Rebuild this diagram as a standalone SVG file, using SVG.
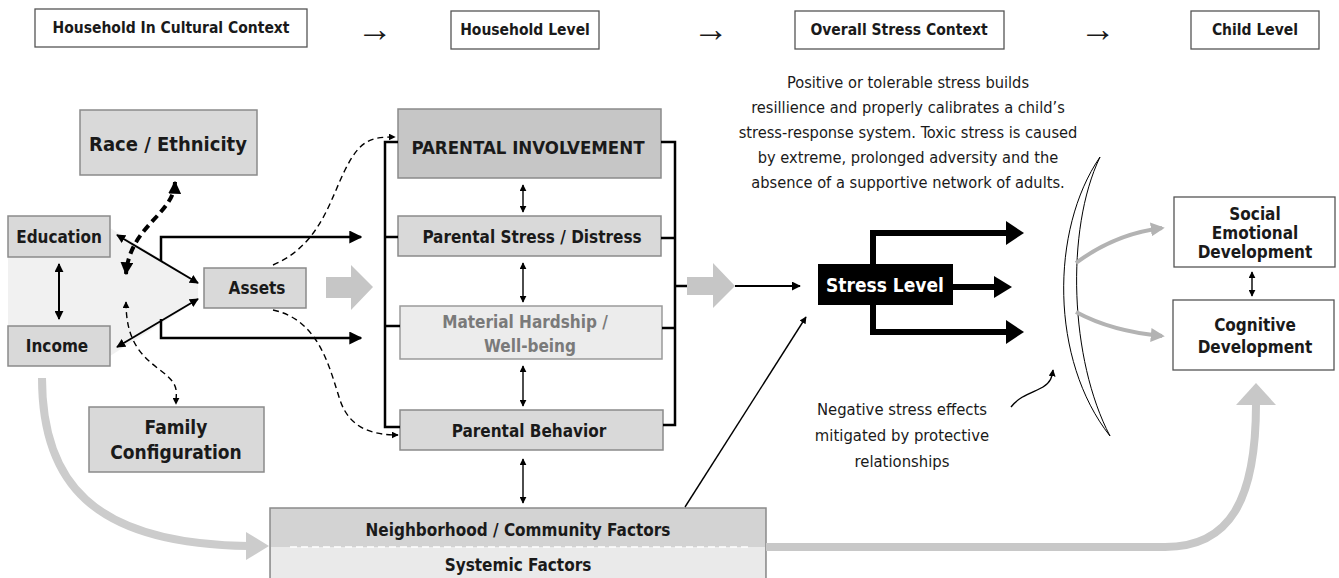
<svg xmlns="http://www.w3.org/2000/svg" width="1339" height="578" viewBox="0 0 1339 578">
<defs>
<style>
.b{font-family:"DejaVu Sans Condensed","Liberation Sans Narrow","Liberation Sans",sans-serif;font-weight:bold;fill:#1a1a1a;text-anchor:middle}
.r{font-family:"DejaVu Sans Condensed","Liberation Sans Narrow","Liberation Sans",sans-serif;font-weight:normal;fill:#1a1a1a;text-anchor:middle}
.ar{font-family:"Liberation Sans",sans-serif;font-weight:normal;fill:#1a1a1a;text-anchor:middle}
.hb{fill:#fff;stroke:#555;stroke-width:1.3}
.nb{fill:#d9d9d9;stroke:#8a8a8a;stroke-width:1.5}
.ln{fill:none;stroke:#000;stroke-width:2.5}
.thin{fill:none;stroke:#000;stroke-width:1.4}
.dash{fill:none;stroke:#000;stroke-width:1.4;stroke-dasharray:6 4}
.gr{fill:#c6c6c6}
</style>
<marker id="ah" viewBox="0 0 10 10" refX="9" refY="5" markerWidth="9" markerHeight="9" markerUnits="userSpaceOnUse" orient="auto-start-reverse"><path d="M0,0 L10,5 L0,10 z" fill="#000"/></marker>
<marker id="as" viewBox="0 0 10 10" refX="9" refY="5" markerWidth="7" markerHeight="7" markerUnits="userSpaceOnUse" orient="auto-start-reverse"><path d="M0,0 L10,5 L0,10 z" fill="#000"/></marker>
<marker id="am" viewBox="0 0 10 10" refX="9" refY="5" markerWidth="13" markerHeight="13" markerUnits="userSpaceOnUse" orient="auto-start-reverse"><path d="M0,0 L10,5 L0,10 z" fill="#000"/></marker>
<marker id="ag" viewBox="0 0 10 10" refX="8" refY="5" markerWidth="14" markerHeight="14" markerUnits="userSpaceOnUse" orient="auto"><path d="M0,0 L10,5 L0,10 z" fill="#b3b3b3"/></marker>
</defs>
<rect width="1339" height="578" fill="#fff"/>

<!-- header -->
<g id="hdr1"><rect class="hb" x="35" y="9" width="272" height="38"/><text class="b" x="171" y="33" font-size="15.5">Household In Cultural Context</text></g>
<text class="ar" x="375" y="41" font-size="36">→</text>
<g id="hdr2"><rect class="hb" x="451" y="11" width="148" height="38"/><text class="b" x="525" y="35" font-size="15.5">Household Level</text></g>
<text class="ar" x="711" y="41" font-size="36">→</text>
<g id="hdr3"><rect class="hb" x="795" y="11" width="209" height="38"/><text class="b" x="899" y="35" font-size="15.5">Overall Stress Context</text></g>
<text class="ar" x="1098" y="41" font-size="36">→</text>
<g id="hdr4"><rect class="hb" x="1191" y="11" width="128" height="38"/><text class="b" x="1255" y="35" font-size="15.5">Child Level</text></g>

<!-- light background region -->
<path d="M8 257 L110 257 L110 228 L198 282 L198 300 L110 356 L110 326 L8 326 Z" fill="#f1f1f1"/>

<!-- nodes -->
<g id="race"><rect class="nb" x="80" y="110" width="177" height="65"/><text class="b" x="168" y="151" font-size="20">Race / Ethnicity</text></g>
<g id="education"><rect class="nb" x="8" y="216" width="102" height="41"/><text class="b" x="59" y="243" font-size="17">Education</text></g>
<g id="income"><rect class="nb" x="8" y="326" width="102" height="40"/><text class="b" x="57" y="352" font-size="17">Income</text></g>
<g id="assets"><rect class="nb" x="204" y="268" width="102" height="40"/><text class="b" x="257" y="294" font-size="17">Assets</text></g>
<g id="family"><rect class="nb" x="89" y="407" width="175" height="65"/><text class="b" x="176" y="434" font-size="19">Family</text><text class="b" x="176" y="459" font-size="19">Configuration</text></g>
<g id="involvement"><rect x="398" y="109" width="263" height="69" fill="#c6c6c6" stroke="#8a8a8a" stroke-width="1.5"/><text class="b" x="528" y="154" font-size="18.5">PARENTAL INVOLVEMENT</text></g>
<g id="stress-distress"><rect class="nb" x="398" y="216" width="263" height="40"/><text class="b" x="532" y="243" font-size="17">Parental Stress / Distress</text></g>
<g id="hardship"><rect x="400" y="306" width="262" height="53" fill="#ececec" stroke="#9a9a9a" stroke-width="1.5"/><text class="b" x="525" y="328" font-size="17" style="fill:#7a7a7a">Material Hardship /</text><text class="b" x="530" y="352" font-size="17" style="fill:#7a7a7a">Well-being</text></g>
<g id="behavior"><rect class="nb" x="400" y="410" width="263" height="40"/><text class="b" x="529" y="437" font-size="17">Parental Behavior</text></g>
<g id="neighborhood"><rect x="270" y="508" width="496" height="80" fill="#d3d3d3" stroke="#8a8a8a" stroke-width="1.5"/><rect x="271" y="547" width="494" height="40" fill="#eaeaea"/><line x1="290" y1="547" x2="750" y2="547" stroke="#fff" stroke-width="1.5" stroke-dasharray="7 4"/><text class="b" x="518" y="536" font-size="17">Neighborhood / Community Factors</text><text class="b" x="518" y="571" font-size="17">Systemic Factors</text></g>
<g id="stress-level"><rect x="818" y="264" width="135" height="41" fill="#000"/><text class="b" x="885" y="292" font-size="19" style="fill:#fff">Stress Level</text></g>
<g id="social"><rect class="hb" x="1174" y="197" width="161" height="70"/><text class="b" x="1255" y="220" font-size="17">Social</text><text class="b" x="1255" y="239" font-size="17">Emotional</text><text class="b" x="1255" y="258" font-size="17">Development</text></g>
<g id="cognitive"><rect class="hb" x="1173" y="300" width="161" height="70"/><text class="b" x="1255" y="331" font-size="17">Cognitive</text><text class="b" x="1255" y="353" font-size="17">Development</text></g>

<g id="text-positive">
<text class="r" x="908" y="88" font-size="16.3">Positive or tolerable stress builds</text>
<text class="r" x="908" y="113" font-size="16.3">resillience and properly calibrates a child’s</text>
<text class="r" x="908" y="138" font-size="16.3">stress-response system. Toxic stress is caused</text>
<text class="r" x="908" y="163" font-size="16.3">by extreme, prolonged adversity and the</text>
<text class="r" x="908" y="188" font-size="16.3">absence of a supportive network of adults.</text>
</g>
<g id="text-negative">
<text class="r" x="902" y="415" font-size="16.5">Negative stress effects</text>
<text class="r" x="902" y="441" font-size="16.5">mitigated by protective</text>
<text class="r" x="902" y="467" font-size="16.5">relationships</text>
</g>

<!-- crescent -->
<path id="buffer" d="M1100 157 C1050 230 1050 360 1110 436 C1070 360 1065 230 1100 157 Z" fill="#fff" stroke="#000" stroke-width="1"/>

<g id="connectors">
<!-- education/income/assets -->
<line class="ln" x1="59" y1="264" x2="59" y2="319" marker-start="url(#ah)" marker-end="url(#ah)" style="stroke-width:2"/>
<line class="ln" x1="117" y1="235" x2="198" y2="283" marker-start="url(#ah)" marker-end="url(#ah)" style="stroke-width:2"/>
<line class="ln" x1="117" y1="347" x2="198" y2="299" marker-start="url(#ah)" marker-end="url(#ah)" style="stroke-width:2"/>
<polyline class="ln" points="161,261 161,237 361,237" marker-end="url(#am)"/>
<polyline class="ln" points="161,319 161,338 361,338" marker-end="url(#am)"/>
<!-- race dashed thick -->
<path d="M175 182 C174 215 130 225 126 274" fill="none" stroke="#000" stroke-width="4" stroke-dasharray="8 5" marker-start="url(#am)" marker-end="url(#am)"/>
<!-- family dashed -->
<path class="dash" d="M126 302 C126 340 140 355 160 370 S176 390 176 404" marker-start="url(#as)" marker-end="url(#as)"/>
<!-- assets dashed to involvement / behavior -->
<path class="dash" d="M273 265 C320 245 330 200 345 170 S370 137 395 137" marker-end="url(#as)"/>
<path class="dash" d="M273 310 C320 320 330 370 340 400 S375 435 398 435" marker-end="url(#as)"/>
<!-- gray block arrows -->
<polygon class="gr" points="326,277 351,277 351,265 373,287 351,310 351,298 326,298"/>
<polygon class="gr" points="687,277 713,277 713,263 735,286 713,308 713,295 687,295"/>
<!-- brackets -->
<polyline class="ln" points="398,142 385,142 385,427 400,427"/>
<line class="ln" x1="385" y1="237" x2="398" y2="237"/>
<line class="ln" x1="385" y1="326" x2="400" y2="326"/>
<polyline class="ln" points="661,142 675,142 675,425 663,425"/>
<line class="ln" x1="661" y1="238" x2="675" y2="238"/>
<line class="ln" x1="662" y1="328" x2="675" y2="328"/>
<line class="ln" x1="675" y1="286" x2="687" y2="286"/>
<!-- small vertical double arrows -->
<line class="thin" x1="523" y1="185" x2="523" y2="212" marker-start="url(#as)" marker-end="url(#as)"/>
<line class="thin" x1="523" y1="263" x2="523" y2="302" marker-start="url(#as)" marker-end="url(#as)"/>
<line class="thin" x1="523" y1="366" x2="523" y2="406" marker-start="url(#as)" marker-end="url(#as)"/>
<line class="thin" x1="523" y1="459" x2="523" y2="503" marker-start="url(#as)" marker-end="url(#as)"/>
<line class="thin" x1="1252" y1="272" x2="1252" y2="296" marker-start="url(#as)" marker-end="url(#as)"/>
<!-- into stress level -->
<line class="thin" x1="735" y1="286" x2="800" y2="286" style="stroke-width:2" marker-end="url(#ah)"/>
<line class="thin" x1="685" y1="507" x2="806" y2="317" marker-end="url(#as)"/>
<!-- stress branches -->
<polyline fill="none" stroke="#000" stroke-width="6" points="873,264 873,233 1008,233"/>
<polygon points="1006,221 1024,233 1006,245" fill="#000"/>
<line x1="953" y1="287" x2="996" y2="287" stroke="#000" stroke-width="6"/>
<polygon points="994,276 1012,287 994,298" fill="#000"/>
<polyline fill="none" stroke="#000" stroke-width="6" points="873,304 873,332 1008,332"/>
<polygon points="1006,320 1024,332 1006,344" fill="#000"/>
<!-- crescent to child outcomes -->
<path d="M1076 263 C1100 245 1130 232 1162 228" fill="none" stroke="#b3b3b3" stroke-width="4" marker-end="url(#ag)"/>
<path d="M1076 312 C1100 325 1130 333 1162 336" fill="none" stroke="#b3b3b3" stroke-width="4" marker-end="url(#ag)"/>
<!-- squiggle -->
<path class="thin" d="M1011 407 C1020 395 1035 392 1043 387 S1052 377 1053 370" marker-end="url(#as)"/>
<!-- big gray curves -->
<path d="M42 378 C42 480 90 544 248 546" fill="none" stroke="#cccccc" stroke-width="8"/>
<polygon points="246,532 269,546 246,560" fill="#cccccc"/>
<path d="M766 547 L1165 547 C1230 547 1256 500 1256 404" fill="none" stroke="#c8c8c8" stroke-width="8"/>
<polygon points="1236,405 1256,383 1276,405" fill="#c8c8c8"/>
</g>
</svg>
